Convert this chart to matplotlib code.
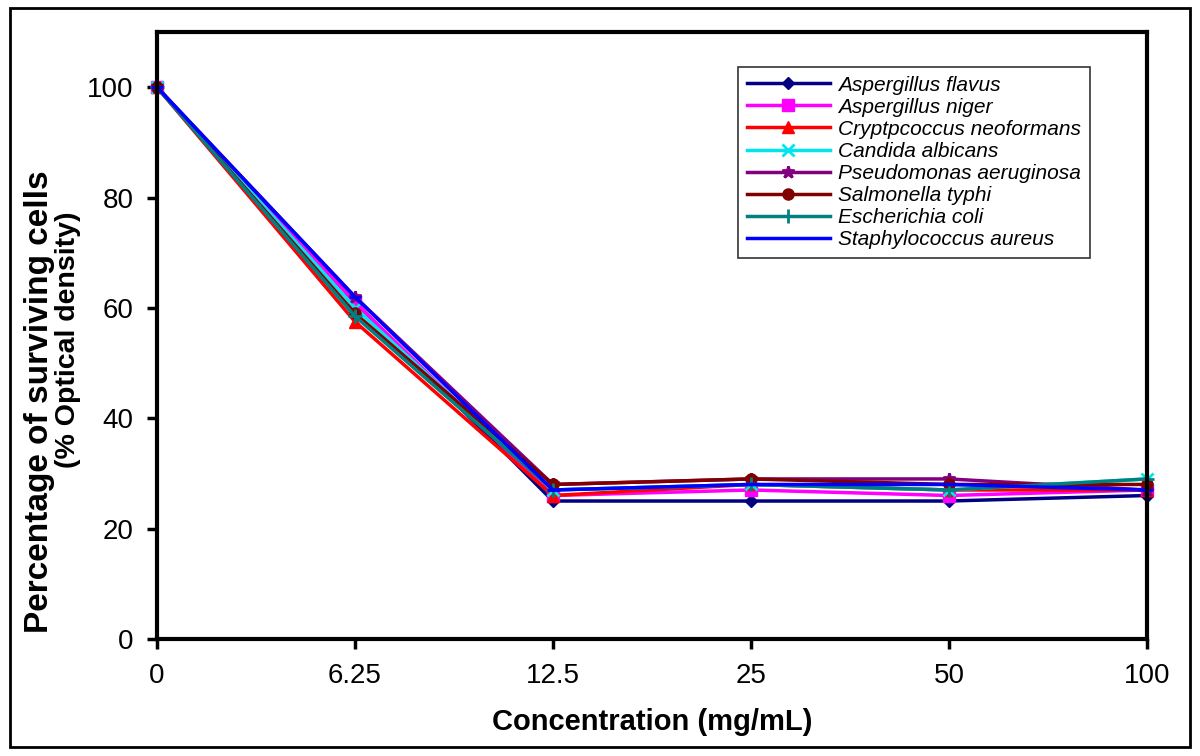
import matplotlib
matplotlib.use("Agg")
import matplotlib.pyplot as plt
from matplotlib.patches import Rectangle

categories = ["0", "6.25", "12.5", "25", "50", "100"]
series_names = ["Aspergillus flavus", "Aspergillus niger", "Cryptpcoccus neoformans",
                "Candida albicans", "Pseudomonas aeruginosa", "Salmonella typhi",
                "Escherichia coli", "Staphylococcus aureus"]
aspergillus_flavus = [100, 61, 25, 25, 25, 26]
aspergillus_niger = [100, 61, 26, 27, 26, 27]
cryptococcus = [100, 57.5, 26, 28, 27, 27]
candida = [100, 60, 27, 28, 27, 29]
pseudomonas = [100, 62, 28, 29, 29, 27]
salmonella = [100, 59, 28, 29, 28, 28]
ecoli = [100, 58.5, 27, 28, 27, 29]
staph = [100, 62, 27, 28, 28, 27]
values = [aspergillus_flavus, aspergillus_niger, cryptococcus, candida,
          pseudomonas, salmonella, ecoli, staph]
colors = ["#000080", "#FF00FF", "#FF0000", "#00E5EE", "#800080", "#800000", "#008080", "#0000FF"]
markers = ["D", "s", "^", "x", "*", "o", "+", "_"]
msizes = [6, 8, 8, 8, 9, 8, 10, 8]

plt.rcParams['font.family'] = ['Liberation Sans', 'DejaVu Sans']
fig = plt.figure(figsize=(12, 7.56), dpi=100)
ax = fig.add_axes([0.1308, 0.1548, 0.825, 0.8029])

x = list(range(len(categories)))
for name, vals, c, m, ms in zip(series_names, values, colors, markers, msizes):
    mew = 2 if m in ("x", "+", "_", "*") else 1
    ax.plot(x, vals, color=c, marker=m, markersize=ms, linewidth=2.5,
            markeredgewidth=mew, label=name, clip_on=False)

ax.set_xlim(0, len(categories) - 1)
ax.set_ylim(0, 110)
ax.set_xticks(x)
ax.set_xticklabels(categories)
ax.set_yticks([0, 20, 40, 60, 80, 100])
ax.tick_params(labelsize=20, width=2.5, length=7, direction='out', pad=10)
for s in ax.spines.values():
    s.set_linewidth(3)
ax.set_xlabel("Concentration (mg/mL)", fontsize=21, fontweight='bold', labelpad=14)

fig.text(40 / 1200, 1 - 402 / 756, "Percentage of surviving cells", rotation=90,
         ha='center', va='center', fontsize=24, fontweight='bold')
fig.text(68 / 1200, 1 - 340 / 756, "(% Optical density)", rotation=90,
         ha='center', va='center', fontsize=20.5, fontweight='bold')

leg = ax.legend(loc='upper right', bbox_to_anchor=(0.942, 0.942), borderaxespad=0,
                frameon=True, fancybox=False, edgecolor='black', handlelength=4.0,
                handletextpad=0.4, borderpad=0.4, labelspacing=0.15,
                prop={'style': 'italic', 'size': 15})
leg.get_frame().set_linewidth(1.2)

fig.patches.append(Rectangle((0.008, 0.012), 0.984, 0.978, transform=fig.transFigure,
                             fill=False, edgecolor='black', linewidth=2))

fig.savefig("out.png", dpi=100)
